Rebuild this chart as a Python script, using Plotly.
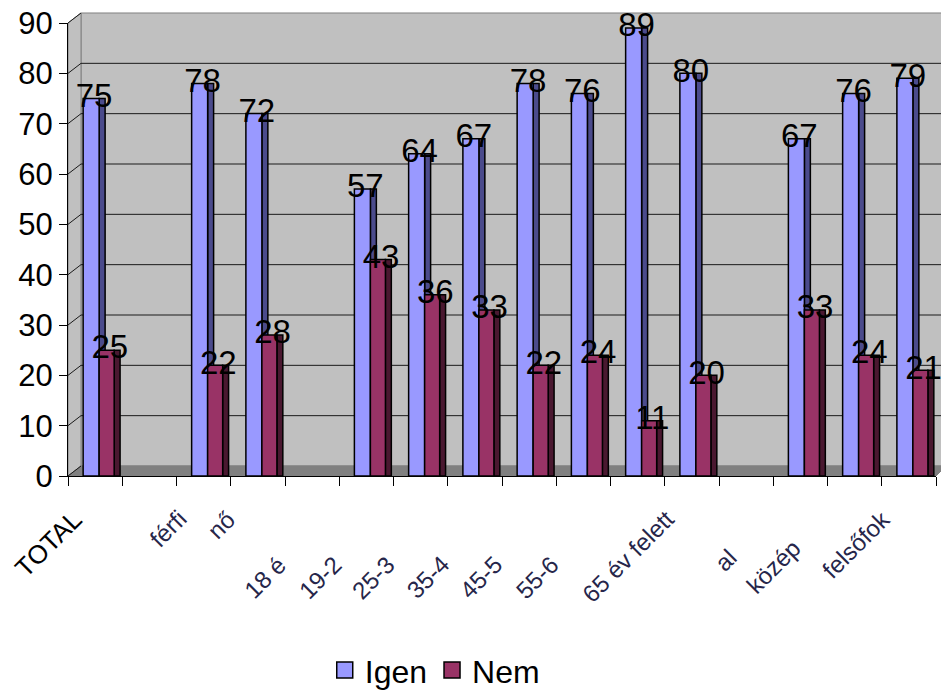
import plotly.graph_objects as go

# ---------------- data ----------------
categories = ["TOTAL", "", "férfi", "nő", "18 é", "19-2", "25-3", "35-4",
              "45-5", "55-6", "", "65 év felett", "al", "közép", "", "felsőfok"]
igen = [75, None, 78, 72, None, 57, 64, 67, 78, 76, 89, 80, None, 67, 76, 79]
nem = [25, None, 22, 28, None, 43, 36, 33, 22, 24, 11, 20, None, 33, 24, 21]
y_ticks = [0, 10, 20, 30, 40, 50, 60, 70, 80, 90]
series_names = ["Igen", "Nem"]

# ---------------- styling ----------------
FONT = "Liberation Sans, Arial, sans-serif"
W, H = 941, 691
L, R, T, B = 68, 5, 23, 215
PW, PH = W - L - R, H - T - B          # plot area in px
YMAX = 90
C_IGEN, C_IGEN_SIDE = "#9999FF", "#4B4B8C"
C_NEM, C_NEM_SIDE = "#993366", "#4A1830"
DX, DY = 13, 10                        # 3D depth offset (px)

x = list(range(1, len(categories) + 1))

def fx(px):
    return (px - L) / PW

def fy(py):
    return (H - B - py) / PH

def front_y(v):
    return (H - B) - v * PH / YMAX

fig = go.Figure()

# bars: side faces first, then fronts
fig.add_trace(go.Bar(x=x, y=igen, offset=0.074, width=0.11, marker_color=C_IGEN_SIDE,
                     marker_line=dict(color="black", width=1.5), showlegend=False, hoverinfo="skip"))
fig.add_trace(go.Bar(x=x, y=igen, offset=-0.221, width=0.295, marker_color=C_IGEN,
                     marker_line=dict(color="black", width=1.5), showlegend=False, name="Igen"))
fig.add_trace(go.Bar(x=x, y=nem, offset=0.35, width=0.11, marker_color=C_NEM_SIDE,
                     marker_line=dict(color="black", width=1.5), showlegend=False, hoverinfo="skip"))
fig.add_trace(go.Bar(x=x, y=nem, offset=0.074, width=0.277, marker_color=C_NEM,
                     marker_line=dict(color="black", width=1.5), showlegend=False, name="Nem"))

# data labels centered on bar tops
def lbl(vals):
    return [("" if v is None else str(v)) for v in vals]

fig.add_trace(go.Scatter(x=[xi - 0.02 for xi in x], y=igen, mode="text", text=lbl(igen),
                         textposition="middle center", cliponaxis=False,
                         textfont=dict(family=FONT, size=33, color="black"),
                         showlegend=False, hoverinfo="skip"))
fig.add_trace(go.Scatter(x=[xi + 0.27 for xi in x], y=nem, mode="text", text=lbl(nem),
                         textposition="middle center", cliponaxis=False,
                         textfont=dict(family=FONT, size=33, color="black"),
                         showlegend=False, hoverinfo="skip"))

# legend entries
for name, col in zip(series_names, [C_IGEN, C_NEM]):
    fig.add_trace(go.Scatter(x=[None], y=[None], mode="markers", name=name,
                             marker=dict(symbol="square", size=16, color=col,
                                         line=dict(color="black", width=1.5))))

# ---------------- 3D walls ----------------
shapes = []
def poly(pts, fill, line="#808080"):
    d = "M " + " L ".join(f"{fx(px):.5f},{fy(py):.5f}" for px, py in pts) + " Z"
    return dict(type="path", path=d, xref="paper", yref="paper", fillcolor=fill,
                line=dict(color=line, width=1), layer="below")

y0f = front_y(0)
ytop = front_y(YMAX)
shapes.append(poly([(L + DX, ytop - DY), (W + 5, ytop - DY), (W + 5, y0f - DY), (L + DX, y0f - DY)], "#C0C0C0"))
shapes.append(poly([(L, y0f), (L, ytop), (L + DX, ytop - DY), (L + DX, y0f - DY)], "#C0C0C0"))
shapes.append(poly([(L, y0f), (L + DX, y0f - DY), (W + 5, y0f - DY), (W - R, y0f)], "#808080"))
for v in y_ticks:
    yy = front_y(v)
    if 0 < v < YMAX:
        shapes.append(dict(type="line", xref="paper", yref="paper",
                           x0=fx(L + DX), x1=fx(W + 5), y0=fy(yy - DY), y1=fy(yy - DY),
                           line=dict(color="#1a1a1a", width=1), layer="below"))
    shapes.append(dict(type="line", xref="paper", yref="paper",
                       x0=fx(L), x1=fx(L + DX), y0=fy(yy), y1=fy(yy - DY),
                       line=dict(color="#1a1a1a", width=1), layer="below"))

# ---------------- category labels ----------------
label_pos = {  # category index -> (xshift px, top px)
    1: (-5, 502), 3: (-9, 502), 4: (-14, 503), 5: (-18, 549), 6: (-17, 548),
    7: (-18, 548), 8: (-18, 548), 9: (-19, 548), 10: (-17, 548), 12: (-10, 502),
    13: (-2, 541), 14: (8, 531), 16: (-11, 502),
}
annotations = []
for i, name in enumerate(categories, start=1):
    if not name:
        continue
    xs, top = label_pos[i]
    annotations.append(dict(x=i, xref="x", y=0, yref="paper", text=name, showarrow=False,
                            textangle=-45, xanchor="right", yanchor="top",
                            xshift=xs, yshift=-(top - (H - B)),
                            font=dict(family=FONT, size=26 if name == "TOTAL" else 24,
                                      color="black" if name == "TOTAL" else "#26264a")))

fig.update_layout(
    width=W, height=H,
    margin=dict(l=L, r=R, t=T, b=B, pad=0, autoexpand=False),
    paper_bgcolor="white", plot_bgcolor="rgba(0,0,0,0)",
    barmode="overlay",
    font=dict(family=FONT, color="black"),
    shapes=shapes, annotations=annotations,
    legend=dict(orientation="h", xref="container", yref="container",
                x=0.462, y=0.03, xanchor="center", yanchor="middle",
                font=dict(family=FONT, size=32, color="black"), itemwidth=30,
                bgcolor="rgba(0,0,0,0)"),
    xaxis=dict(range=[0.5, len(categories) + 0.5], showgrid=False, zeroline=False,
               showline=True, linecolor="black", linewidth=1,
               tickmode="array", tickvals=[i + 0.5 for i in range(len(categories) + 1)],
               ticks="outside", ticklen=9, tickcolor="black", showticklabels=False),
    yaxis=dict(range=[0, YMAX], showgrid=False, zeroline=False,
               showline=True, linecolor="black", linewidth=1,
               tickmode="array", tickvals=y_ticks, ticks="outside", ticklen=8,
               tickcolor="black", tickfont=dict(family=FONT, size=31, color="black")),
)

fig.write_html("out.html", config={"displayModeBar": False},
               post_script="document.body.style.margin='0px';")
